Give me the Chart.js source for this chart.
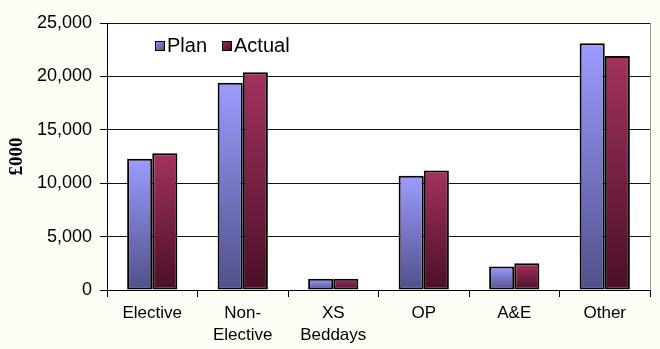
<!DOCTYPE html>
<html>
<head>
<meta charset="utf-8">
<script src="https://cdn.jsdelivr.net/npm/chart.js@4/dist/chart.umd.min.js"></script>
<style>
  html, body { margin: 0; padding: 0; background: #fdfdf5; }
  #wrap { width: 660px; height: 349px; }
</style>
</head>
<body>
<div id="wrap"><canvas id="c" width="660" height="349"></canvas></div>
<script>
// Spend by point of delivery, £000
const categories = ["Elective", ["Non-", "Elective"], ["XS", "Beddays"], "OP", "A&E", "Other"];
const planValues = [12300, 19400, 1050, 10700, 2200, 23100];
const actualValues = [12800, 20400, 1050, 11200, 2500, 21900];
const seriesNames = ["Plan", "Actual"];
const yTicks = [0, 5000, 10000, 15000, 20000, 25000];

const FONT = "'Liberation Sans', Arial, sans-serif";

// vertical shading for each bar: light at the top, dark at the base
function barShade(top, bottom) {
  return function (ctx) {
    const chart = ctx.chart;
    const area = chart.chartArea;
    if (!area || ctx.type !== 'data') return top;
    const y = chart.scales.y.getPixelForValue(ctx.parsed ? ctx.parsed.y : ctx.raw);
    const y0 = chart.scales.y.getPixelForValue(0);
    if (!isFinite(y) || Math.abs(y0 - y) < 1) return top;
    const g = chart.ctx.createLinearGradient(0, y, 0, y0);
    g.addColorStop(0, top);
    g.addColorStop(1, bottom);
    return g;
  };
}

const planTop = '#9c9cff', planBottom = '#50508a';
const actualTop = '#a3325f', actualBottom = '#4b0f27';

// background, plot frame and in-plot legend
const framePlugin = {
  id: 'frame',
  beforeDraw(chart) {
    const { ctx, chartArea: a } = chart;
    ctx.save();
    ctx.fillStyle = '#fdfdf5';
    ctx.fillRect(0, 0, chart.width, chart.height);
    ctx.fillStyle = '#ffffff';
    ctx.fillRect(a.left, a.top, a.right - a.left, a.bottom - a.top);
    ctx.restore();
  },
  afterDraw(chart) {
    const { ctx, chartArea: a } = chart;
    ctx.save();
    ctx.strokeStyle = '#9a9a9a';
    ctx.lineWidth = 1;
    ctx.beginPath();
    ctx.moveTo(Math.round(a.right) + 0.5, a.top);
    ctx.lineTo(Math.round(a.right) + 0.5, a.bottom);
    ctx.stroke();

    // legend
    const fills = [planTop, actualTop];
    const shades = [planBottom, actualBottom];
    let x = a.left + 48;
    const cy = a.top + 22;
    ctx.font = '20px ' + FONT;
    ctx.textBaseline = 'middle';
    chart.data.datasets.forEach((ds, i) => {
      const s = 9;
      const g = ctx.createLinearGradient(x, cy - s / 2, x + s, cy + s / 2);
      g.addColorStop(0, fills[i]);
      g.addColorStop(1, shades[i]);
      ctx.fillStyle = g;
      ctx.fillRect(x + 0.5, Math.round(cy - s / 2) + 0.5, s, s);
      ctx.strokeStyle = '#000';
      ctx.strokeRect(x + 0.5, Math.round(cy - s / 2) + 0.5, s, s);
      ctx.fillStyle = '#000';
      ctx.fillText(ds.label, x + s + 3, cy + 1);
      x += s + 3 + ctx.measureText(ds.label).width + 15;
    });
    ctx.restore();
  }
};

new Chart(document.getElementById('c'), {
  type: 'bar',
  data: {
    labels: categories,
    datasets: [
      {
        label: seriesNames[0],
        data: planValues,
        backgroundColor: barShade(planTop, planBottom),
        borderColor: '#000',
        borderWidth: 2,
        borderSkipped: false,
        categoryPercentage: 0.555,
        barPercentage: 1
      },
      {
        label: seriesNames[1],
        data: actualValues,
        backgroundColor: barShade(actualTop, actualBottom),
        borderColor: '#000',
        borderWidth: 2,
        borderSkipped: false,
        categoryPercentage: 0.555,
        barPercentage: 1
      }
    ]
  },
  options: {
    responsive: false,
    animation: false,
    devicePixelRatio: 1,
    layout: { padding: { top: 23, right: 10, left: 0, bottom: 0 } },
    plugins: {
      legend: { display: false },
      title: { display: false },
      tooltip: { enabled: false }
    },
    scales: {
      x: {
        grid: {
          display: true,
          offset: true,
          drawOnChartArea: false,
          drawTicks: true,
          tickLength: 7,
          color: '#000'
        },
        border: { display: true, color: '#000', width: 1 },
        ticks: {
          color: '#000',
          font: { family: FONT, size: 17, lineHeight: 1.3 },
          padding: 5,
          maxRotation: 0,
          autoSkip: false
        },
        afterFit(scale) { scale.height = 59; }
      },
      y: {
        min: 0,
        max: 25000,
        afterBuildTicks(scale) { scale.ticks = yTicks.map(v => ({ value: v })); },
        grid: {
          color: '#111',
          lineWidth: 1,
          drawTicks: true,
          tickLength: 7,
          tickColor: '#000'
        },
        border: { display: true, color: '#000', width: 1 },
        ticks: {
          color: '#000',
          font: { family: FONT, size: 18 },
          padding: 8,
          callback: v => v.toLocaleString('en-US')
        },
        title: {
          display: true,
          text: '£000',
          color: '#000',
          font: { family: "'Liberation Serif', 'Times New Roman', serif", size: 19, weight: 'bold' },
          padding: { top: 6, bottom: 0 }
        },
        afterFit(scale) { scale.width = 107; }
      }
    }
  },
  plugins: [framePlugin]
});
</script>
</body>
</html>
